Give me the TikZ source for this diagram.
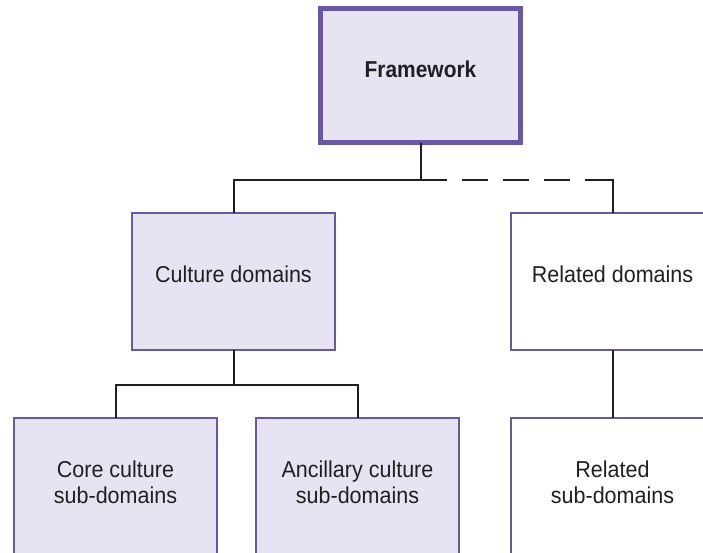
\documentclass[tikz,border=0pt]{standalone}
\usepackage{fontspec}
\setmainfont[FakeStretch=0.935]{Liberation Sans}
\newfontfamily\headfont[FakeStretch=0.91]{Liberation Sans}
\begin{document}
\begin{tikzpicture}[x=1pt,y=-1pt,
  every node/.style={inner sep=0pt, outer sep=0pt},
  boxline/.style={draw=frameviolet, line width=2pt, rectangle,
    minimum width=203pt, minimum height=137pt},
  shaded/.style={boxline, fill=boxfill},
  plain/.style={boxline, fill=white},
  topbox/.style={draw=frameviolet, fill=boxfill, line width=5pt, rectangle,
    minimum width=200pt, minimum height=134pt},
  lbl/.style={text=inkdark, align=center, font=\fontsize{23}{26}\selectfont},
  toplbl/.style={text=inkdark, font=\headfont\bfseries\fontsize{23}{27}\selectfont},
  conn/.style={draw=inkdark, line width=2pt},
]
\definecolor{frameviolet}{HTML}{6A56A6}
\definecolor{boxfill}{HTML}{E6E4F2}
\definecolor{inkdark}{HTML}{231F20}

\clip (0,0) rectangle (703,552);
\fill[white] (0,0) rectangle (703,552);

% boxes
\node[topbox] (fw)     at (420.5,75.5)  {};
\node[shaded] (cult)   at (233.5,281.5) {};
\node[plain]  (rel)    at (612.5,281.5) {};
\node[shaded] (core)   at (115.5,486.5) {};
\node[shaded] (anc)    at (357.5,486.5) {};
\node[plain]  (relsub) at (612.5,486.5) {};

% labels
\node[toplbl] (fwT)     at ([yshift=6.5pt]fw.center)     {Framework};
\node[lbl]    (cultT)   at ([yshift=6.9pt]cult.center)   {Culture domains};
\node[lbl]    (relT)    at ([yshift=6.9pt]rel.center)    {Related domains};
\node[lbl]    (coreT)   at ([yshift=3.9pt]core.center)   {Core culture\\sub-domains};
\node[lbl]    (ancT)    at ([yshift=3.9pt]anc.center)    {Ancillary culture\\sub-domains};
\node[lbl]    (relsubT) at ([yshift=3.9pt]relsub.center) {Related\\sub-domains};

% junctions
\coordinate (j1) at (fw.south |- 0,180);
\coordinate (j2) at (cult.south |- 0,385);

% connectors
\draw[conn] (fw.south) -- (j1) -| (cult.north);
\draw[conn, dash pattern=on 26.5pt off 14.5pt on 26.5pt off 14.5pt on 26.5pt off 14.5pt on 26.5pt off 14.5pt on 300pt]
  (j1) -| (rel.north);
\draw[conn] (cult.south) -- (j2);
\draw[conn] (j2) -| (core.north);
\draw[conn] (j2) -| (anc.north);
\draw[conn] (rel.south) -- (relsub.north);
\end{tikzpicture}
\end{document}
